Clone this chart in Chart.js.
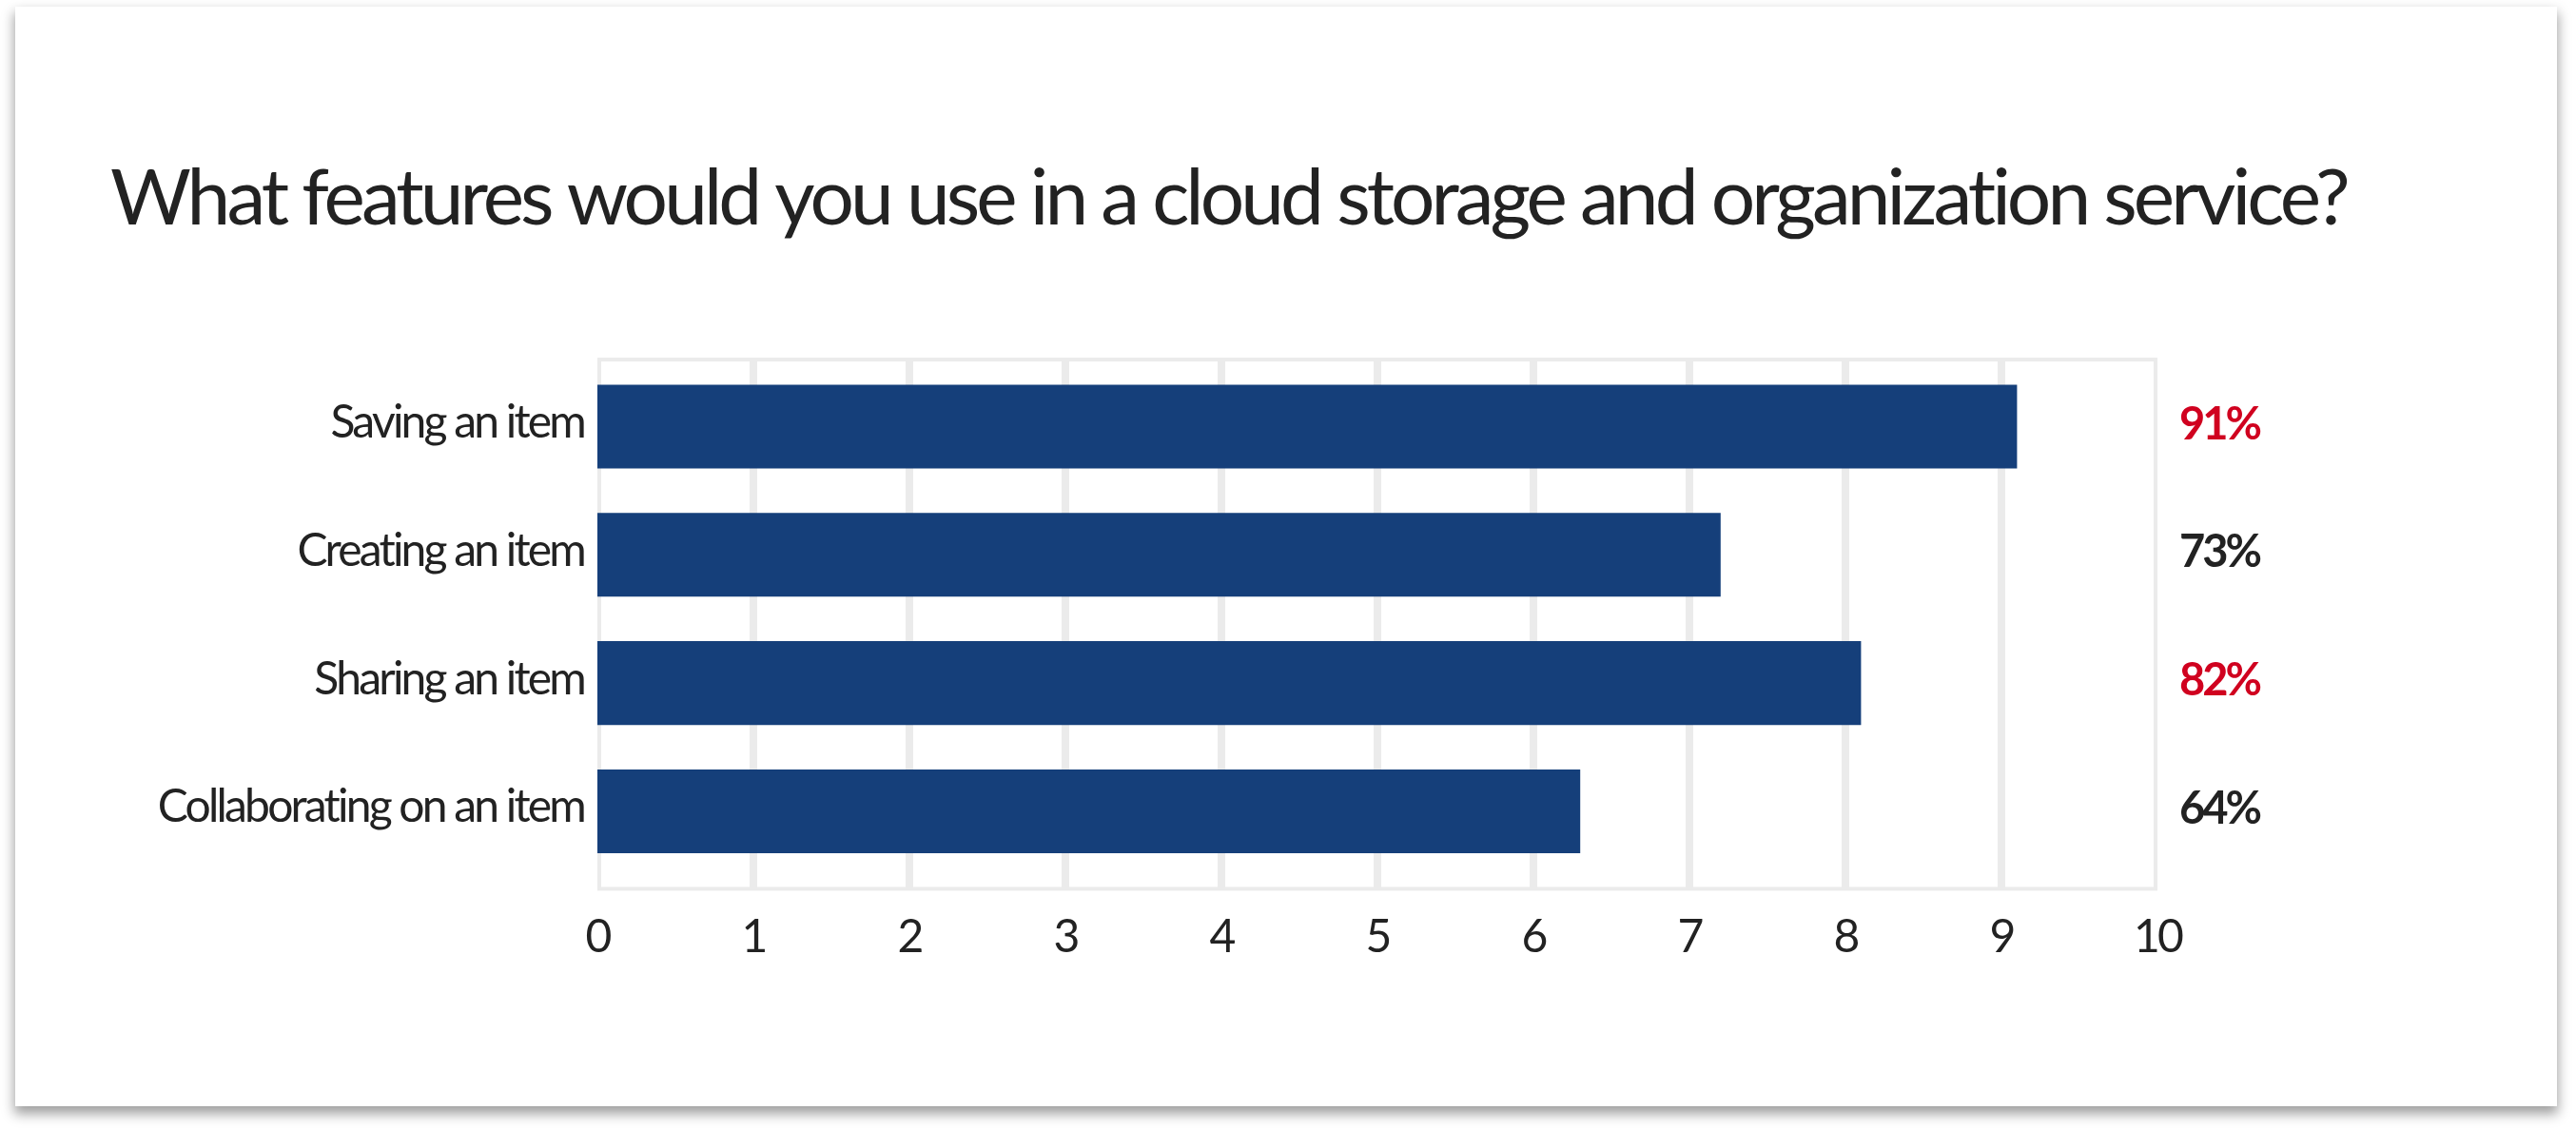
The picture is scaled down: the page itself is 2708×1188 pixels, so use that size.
<!DOCTYPE html>
<html>
<head>
<meta charset="utf-8">
<script src="https://cdn.jsdelivr.net/npm/chart.js@4.4.1/dist/chart.umd.min.js"></script>
<style>
  html, body { margin: 0; padding: 0; background: #ffffff; width: 2708px; height: 1188px; overflow: hidden; }
  #card { position: absolute; left: 16px; top: 7px; width: 2672px; height: 1156px; background: #ffffff;
          box-shadow: 0 7px 12px 1px rgba(0,0,0,0.38); }
  #c { position: absolute; left: 0; top: 0; }
</style>
</head>
<body>
<div id="card"></div>
<canvas id="c" width="2708" height="1188"></canvas>
<script>
// ---- data ----
const titleText = 'What features would you use in a cloud storage and organization service?';
const categories = ['Saving an item', 'Creating an item', 'Sharing an item', 'Collaborating on an item'];
const values = [9.1, 7.2, 8.1, 6.3];
const percentLabels = ['91%', '73%', '82%', '64%'];
const highlighted = [true, false, true, false];
const xMin = 0;
const xMax = 10;
const xStep = 1;

// ---- styles ----
const FONT = 'Lato';
const TEXT = '#222222';
const BAR = '#153f7a';
const RED = '#d0011f';
const GRID = '#ebebeb';
const AXIS_SPACING = '-2.8px';
const TITLE_X = 116, TITLE_BASE = 236, TITLE_WIDTH = 2356;

const framePlugin = {
  id: 'frame',
  beforeDraw(chart) {
    const ctx = chart.ctx;
    // title
    ctx.save();
    ctx.font = 'normal 82px ' + FONT;
    ctx.letterSpacing = '0px';
    const w0 = ctx.measureText(titleText).width;
    const sp = (TITLE_WIDTH - w0) / (titleText.length - 1);
    ctx.letterSpacing = sp.toFixed(2) + 'px';
    ctx.fillStyle = TEXT;
    ctx.textAlign = 'left';
    ctx.textBaseline = 'alphabetic';
    ctx.fillText(titleText, TITLE_X, TITLE_BASE);
    ctx.restore();
    ctx.letterSpacing = AXIS_SPACING;
  },
  beforeDatasetsDraw(chart) {
    const ctx = chart.ctx;
    const xs = chart.scales.x;
    const a = chart.chartArea;
    const top = a.top - 3, bottom = a.bottom + 14;
    ctx.save();
    ctx.strokeStyle = GRID;
    ctx.lineWidth = 8;
    xs.ticks.forEach(t => {
      if (t.value === xMin || t.value === xMax) return;
      const px = xs.getPixelForValue(t.value);
      ctx.beginPath(); ctx.moveTo(px, top); ctx.lineTo(px, bottom); ctx.stroke();
    });
    ctx.lineWidth = 4;
    const l = xs.getPixelForValue(xMin) + 2, r = xs.getPixelForValue(xMax) - 2;
    ctx.strokeRect(l, top, r - l, bottom - top);
    ctx.restore();
  },
  afterDraw(chart) {
    const ctx = chart.ctx;
    const xs = chart.scales.x;
    const ys = chart.scales.y;
    ctx.save();
    ctx.font = 'bold 47px ' + FONT;
    ctx.letterSpacing = '-3px';
    ctx.textAlign = 'left';
    ctx.textBaseline = 'middle';
    percentLabels.forEach((s, i) => {
      ctx.fillStyle = highlighted[i] ? RED : TEXT;
      ctx.fillText(s, xs.right + 23, ys.getPixelForValue(i) - 2);
    });
    ctx.restore();
  }
};

new Chart(document.getElementById('c'), {
  type: 'bar',
  data: {
    labels: categories,
    datasets: [{
      data: values,
      backgroundColor: BAR,
      borderWidth: 0,
      categoryPercentage: 1.0,
      barPercentage: 0.653
    }]
  },
  options: {
    indexAxis: 'y',
    responsive: false,
    animation: false,
    devicePixelRatio: 1,
    layout: { padding: { left: 116, right: 440, top: 381, bottom: 146 } },
    plugins: {
      legend: { display: false },
      tooltip: { enabled: false },
      title: { display: false }
    },
    scales: {
      x: {
        type: 'linear',
        min: xMin, max: xMax,
        grid: { display: false },
        border: { display: false },
        ticks: { stepSize: xStep, color: TEXT, padding: 28, font: { family: FONT, size: 48 } }
      },
      y: {
        grid: { display: false },
        border: { display: false },
        afterFit(scale) { scale.width = 512; },
        ticks: { color: TEXT, padding: 6, labelOffset: -4, font: { family: FONT, size: 48 } }
      }
    }
  },
  plugins: [framePlugin]
});
</script>
</body>
</html>
